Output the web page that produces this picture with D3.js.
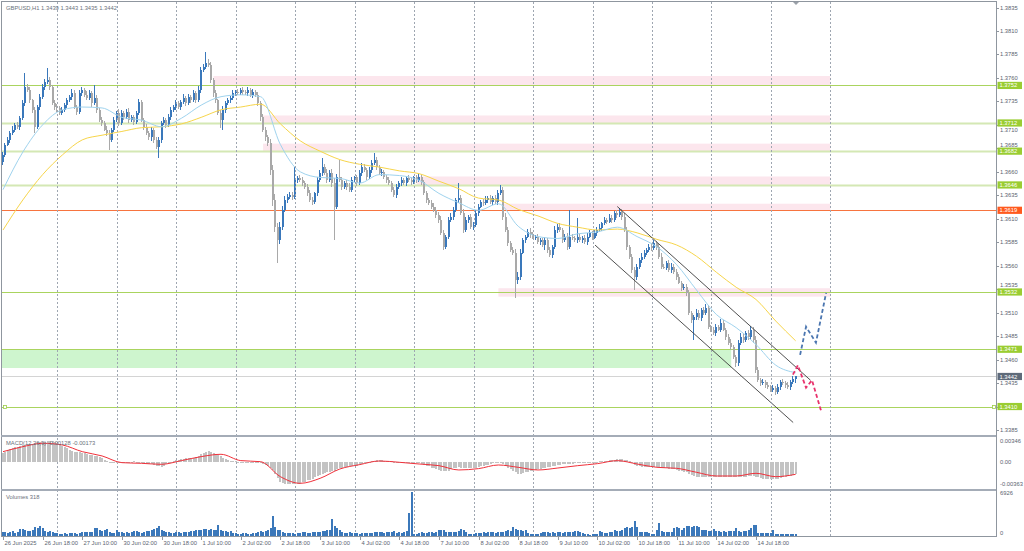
<!DOCTYPE html>
<html><head><meta charset="utf-8">
<script src="https://cdn.jsdelivr.net/npm/d3@7"></script>
<style>
html,body{margin:0;padding:0;background:#fff;overflow:hidden;}
svg{display:block;font-family:"Liberation Sans",Arial,sans-serif;}
</style></head><body>
<svg id="c" width="1024" height="551"></svg>
<script>
// ================= DATA =================
const symbolTitle = "GBPUSD,H1  1.3439 1.3443 1.3435 1.3442";
const macdTitle = "MACD(12,26,9) -0.00128 -0.00173";
const volTitle = "Volumes 318";

const firstOpen = 1.3670;
// hourly closes, 26 Jun 02:00 -> 15 Jul 10:00
const closes = [
1.3678,1.3689,1.3694,1.3701,1.3705,1.3710,1.3708,1.3717,1.3733,1.3750,1.3747,1.3736,1.3726,1.3708,1.3729,1.3740,
1.3750,1.3756,1.3758,1.3750,1.3733,1.3729,1.3728,1.3723,1.3726,1.3731,1.3736,1.3740,1.3744,1.3729,1.3724,1.3744,
1.3747,1.3742,1.3739,1.3744,1.3733,1.3739,1.3726,1.3715,1.3712,1.3705,1.3701,1.3694,1.3705,1.3715,1.3723,1.3712,
1.3723,1.3718,1.3724,1.3715,1.3718,1.3713,1.3723,1.3734,1.3715,1.3708,1.3701,1.3697,1.3705,1.3694,1.3686,1.3694,
1.3712,1.3715,1.3710,1.3718,1.3726,1.3729,1.3733,1.3729,1.3734,1.3739,1.3733,1.3740,1.3736,1.3744,1.3736,1.3747,
1.3768,1.3772,1.3776,1.3774,1.3758,1.3744,1.3736,1.3723,1.3715,1.3726,1.3733,1.3736,1.3739,1.3744,1.3745,1.3744,
1.3747,1.3745,1.3744,1.3747,1.3742,1.3745,1.3742,1.3733,1.3718,1.3705,1.3697,1.3691,1.3662,1.3630,1.3601,1.3587,
1.3601,1.3619,1.3630,1.3633,1.3635,1.3633,1.3651,1.3653,1.3651,1.3648,1.3644,1.3637,1.3630,1.3628,1.3637,1.3651,
1.3659,1.3665,1.3659,1.3651,1.3659,1.3648,1.3623,1.3654,1.3651,1.3644,1.3648,1.3644,1.3641,1.3651,1.3654,1.3648,
1.3659,1.3665,1.3662,1.3654,1.3662,1.3669,1.3673,1.3665,1.3659,1.3660,1.3654,1.3651,1.3648,1.3641,1.3635,1.3644,
1.3648,1.3651,1.3648,1.3653,1.3651,1.3649,1.3654,1.3651,1.3654,1.3649,1.3637,1.3630,1.3627,1.3623,1.3619,1.3614,
1.3609,1.3595,1.3580,1.3591,1.3609,1.3612,1.3619,1.3630,1.3632,1.3616,1.3598,1.3609,1.3612,1.3601,1.3603,1.3616,
1.3623,1.3628,1.3627,1.3630,1.3632,1.3628,1.3632,1.3628,1.3637,1.3641,1.3612,1.3598,1.3584,1.3577,1.3574,1.3545,
1.3548,1.3574,1.3587,1.3591,1.3596,1.3593,1.3590,1.3591,1.3585,1.3587,1.3582,1.3587,1.3577,1.3571,1.3580,1.3598,
1.3601,1.3598,1.3587,1.3591,1.3580,1.3591,1.3590,1.3587,1.3591,1.3587,1.3590,1.3585,1.3591,1.3595,1.3590,1.3595,
1.3598,1.3600,1.3605,1.3609,1.3607,1.3611,1.3609,1.3616,1.3614,1.3617,1.3612,1.3598,1.3580,1.3569,1.3555,1.3548,
1.3559,1.3566,1.3569,1.3574,1.3577,1.3580,1.3579,1.3584,1.3580,1.3569,1.3559,1.3558,1.3563,1.3555,1.3559,1.3553,
1.3548,1.3542,1.3536,1.3537,1.3531,1.3510,1.3502,1.3505,1.3510,1.3504,1.3513,1.3510,1.3515,1.3495,1.3492,1.3488,
1.3495,1.3492,1.3499,1.3492,1.3484,1.3478,1.3473,1.3463,1.3456,1.3478,1.3484,1.3481,1.3488,1.3484,1.3492,1.3481,
1.3449,1.3438,1.3435,1.3436,1.3433,1.3431,1.3428,1.3430,1.3425,1.3431,1.3436,1.3435,1.3433,1.3431,1.3436,1.3439,1.3442];
// wick lengths above/below the body, in pips
const upperWickPips = [
3,2,3,2,4,2,3,2,3,15,4,3,2,3,2,3,
4,3,13,3,2,4,3,2,3,2,3,2,4,3,2,3,
3,2,4,3,2,13,3,2,3,2,4,3,2,3,2,4,
3,2,3,4,2,3,2,4,3,2,3,2,3,2,3,3,
2,3,2,4,3,2,3,2,3,4,2,3,2,3,2,4,
4,3,12,4,3,2,3,2,3,4,2,3,2,3,2,3,
2,3,2,3,2,3,2,3,2,4,3,2,4,5,6,5,
6,5,4,3,4,3,14,3,4,3,2,3,4,3,2,3,
3,10,3,4,3,4,5,4,19,3,2,3,4,3,2,3,
3,4,3,2,3,4,7,3,2,3,2,3,4,2,3,3,
2,3,2,3,4,3,2,3,4,3,2,3,2,3,4,3,
3,4,3,2,3,4,3,2,16,3,4,3,2,3,4,3,
3,2,3,4,2,3,2,3,4,5,3,4,3,2,3,4,
5,4,3,2,3,4,3,2,3,2,3,4,2,3,2,4,
3,4,2,3,4,28,3,2,20,3,2,3,4,3,2,3,
3,4,2,3,2,4,3,2,3,4,3,4,3,2,3,4,
3,2,4,3,2,3,4,3,2,3,4,3,2,3,4,3,
4,3,2,3,4,3,2,3,4,3,2,3,4,3,2,3,
3,2,4,3,2,3,4,3,2,3,4,3,2,3,4,3,
4,3,2,3,2,3,2,3,2,3,2,3,2,3,2,3,1];
const lowerWickPips = [
3,2,2,3,2,3,2,3,2,3,2,3,3,7,2,3,
2,3,2,3,2,3,4,2,3,2,3,2,3,2,3,2,
3,2,3,2,4,2,3,2,3,2,3,11,2,3,2,3,
2,3,2,3,2,3,2,3,2,3,2,3,4,3,2,11,
3,2,3,2,3,2,3,2,3,2,3,2,3,2,3,2,
3,2,3,2,3,4,3,2,8,10,3,2,3,2,3,2,
2,3,2,3,2,3,2,3,4,3,4,3,5,6,5,24,
4,3,2,3,2,3,2,3,2,3,2,3,2,3,2,3,
2,3,2,3,2,4,36,3,2,3,2,3,2,3,2,3,
2,3,2,3,2,3,2,3,2,3,2,3,2,3,2,3,
2,3,2,3,2,3,2,3,2,3,2,3,2,3,2,3,
3,2,3,2,3,2,3,2,3,2,3,2,3,2,3,2,
3,2,3,2,3,2,3,2,3,2,3,2,3,2,3,19,
4,3,2,3,2,3,2,3,2,3,2,5,3,2,3,2,
3,2,3,2,3,2,3,2,3,2,3,2,3,2,3,2,
3,2,3,2,3,2,3,2,3,2,3,2,3,2,3,14,
3,2,3,2,3,2,3,2,3,2,3,2,3,2,3,2,
3,2,3,2,3,2,3,21,3,2,3,2,3,2,3,2,
3,2,3,2,3,2,3,2,4,3,2,3,2,3,2,3,
3,2,3,2,3,2,3,2,3,2,3,2,3,2,3,2,4];
const volumes = [
600,700,550,650,800,500,700,1100,1050,1000,850,800,1000,1400,1300,1650,
1200,800,700,750,600,550,400,300,350,400,350,500,450,400,350,450,
600,650,600,700,650,1300,1200,900,850,1000,1100,700,500,400,900,700,
600,500,650,550,700,800,750,600,550,700,800,750,900,1100,1250,1500,
900,800,650,600,550,500,600,650,550,700,600,650,750,800,900,950,
1000,1150,1100,950,1100,1000,900,1700,1000,850,800,700,750,500,450,300,
350,450,400,300,350,450,400,600,750,700,800,900,1300,3100,1400,1000,
900,600,500,550,400,500,350,450,500,650,600,500,550,700,600,650,
700,800,750,900,1000,2700,1500,1300,900,700,500,450,600,500,400,500,
300,450,500,450,400,550,600,650,700,600,550,700,650,600,750,550,
700,500,650,800,3600,6926,300,350,400,600,550,500,600,650,550,700,
950,1000,900,700,650,600,700,650,750,1100,950,600,350,300,350,400,
400,550,600,500,650,700,600,550,650,700,600,800,900,850,1400,1100,
1000,950,850,900,400,350,300,350,300,500,600,650,600,550,600,500,
600,650,550,600,700,650,600,800,750,700,500,300,250,200,300,250,
300,800,600,550,500,600,700,900,750,800,1000,1200,1400,1300,1350,2300,
1400,700,600,650,700,400,300,350,900,2000,800,650,600,700,650,1300,
1400,1250,1000,1200,1500,1600,1450,1550,1500,1400,1000,950,900,850,750,1050,
800,750,700,800,700,750,800,850,1200,800,700,750,850,1000,1300,1700,
1750,500,400,450,400,450,500,950,350,300,350,300,250,350,300,250,318];
const macdMain = [
0.0015,0.0017,0.0019,0.0021,0.0022,0.0024,0.0025,0.0026,0.0027,0.0028,0.0029,0.0030,0.0030,0.0031,0.0032,0.0032,
0.0033,0.0033,0.0034,0.0034,0.0034,0.0033,0.0031,0.0029,0.0026,0.0024,0.0022,0.0020,0.0018,0.0017,0.0016,0.0016,
0.0015,0.0014,0.0013,0.0012,0.0011,0.0010,0.0009,0.0008,0.0006,0.0004,0.0002,0.0000,-0.0002,-0.0002,-0.0001,-0.0001,
-0.0001,0.0000,0.0000,0.0000,0.0000,0.0001,0.0000,-0.0001,-0.0001,-0.0002,-0.0003,-0.0003,-0.0004,-0.0005,-0.0006,-0.0007,
-0.0008,-0.0006,-0.0004,-0.0002,0.0000,0.0001,0.0003,0.0004,0.0005,0.0005,0.0006,0.0006,0.0006,0.0007,0.0008,0.0010,
0.0013,0.0015,0.0017,0.0018,0.0017,0.0015,0.0013,0.0011,0.0010,0.0007,0.0005,0.0003,0.0002,0.0001,0.0001,0.0000,
0.0000,0.0000,-0.0001,-0.0001,-0.0001,-0.0001,-0.0001,-0.0002,-0.0002,-0.0003,-0.0005,-0.0006,-0.0009,-0.0013,-0.0019,-0.0026,
-0.0032,-0.0034,-0.0035,-0.0036,-0.0036,-0.0036,-0.0036,-0.0035,-0.0035,-0.0033,-0.0032,-0.0030,-0.0029,-0.0027,-0.0025,-0.0023,
-0.0021,-0.0020,-0.0018,-0.0017,-0.0016,-0.0015,-0.0014,-0.0012,-0.0010,-0.0009,-0.0008,-0.0008,-0.0007,-0.0007,-0.0006,-0.0006,
-0.0005,-0.0004,-0.0002,-0.0001,0.0000,0.0001,0.0002,0.0003,0.0003,0.0003,0.0002,0.0002,0.0002,0.0001,0.0000,-0.0001,
-0.0001,-0.0001,-0.0001,-0.0001,-0.0001,-0.0001,-0.0002,-0.0002,-0.0002,-0.0003,-0.0005,-0.0006,-0.0007,-0.0009,-0.0010,-0.0012,
-0.0013,-0.0014,-0.0015,-0.0014,-0.0014,-0.0012,-0.0010,-0.0009,-0.0008,-0.0009,-0.0010,-0.0010,-0.0010,-0.0010,-0.0009,-0.0009,
-0.0008,-0.0007,-0.0006,-0.0005,-0.0005,-0.0004,-0.0002,-0.0001,0.0000,0.0000,-0.0003,-0.0006,-0.0010,-0.0012,-0.0014,-0.0017,
-0.0019,-0.0019,-0.0018,-0.0017,-0.0016,-0.0015,-0.0014,-0.0013,-0.0012,-0.0011,-0.0010,-0.0009,-0.0008,-0.0008,-0.0007,-0.0006,
-0.0005,-0.0005,-0.0004,-0.0004,-0.0004,-0.0003,-0.0003,-0.0002,-0.0002,-0.0002,-0.0001,-0.0001,-0.0001,-0.0001,0.0000,0.0000,
0.0000,0.0001,0.0001,0.0002,0.0002,0.0003,0.0004,0.0004,0.0005,0.0005,0.0005,0.0004,0.0003,0.0001,-0.0002,-0.0005,
-0.0007,-0.0007,-0.0008,-0.0008,-0.0008,-0.0008,-0.0008,-0.0008,-0.0008,-0.0008,-0.0009,-0.0009,-0.0010,-0.0011,-0.0012,-0.0012,
-0.0013,-0.0014,-0.0015,-0.0016,-0.0017,-0.0019,-0.0021,-0.0023,-0.0024,-0.0025,-0.0025,-0.0025,-0.0025,-0.0025,-0.0025,-0.0024,
-0.0024,-0.0024,-0.0024,-0.0024,-0.0024,-0.0024,-0.0025,-0.0025,-0.0025,-0.0025,-0.0024,-0.0024,-0.0024,-0.0023,-0.0023,-0.0023,
-0.0024,-0.0025,-0.0026,-0.0027,-0.0027,-0.0028,-0.0028,-0.0028,-0.0028,-0.0027,-0.0026,-0.0025,-0.0024,-0.0023,-0.0022,-0.0021,-0.0020];
// indicator lines sampled every 8 bars
const maStep = 8;
const maFast = [1.3641,1.3681,1.3710,1.3726,1.3729,1.3728,1.3718,1.3715,1.3708,1.3717,1.3731,1.3740,1.3742,1.3740,1.3689,1.3660,1.3654,1.3653,1.3648,1.3657,1.3656,1.3651,1.3637,1.3627,1.3619,1.3626,1.3602,1.3591,1.3589,1.3594,1.3596,1.3601,1.3591,1.3580,1.3561,1.3534,1.3508,1.3494,1.3476,1.3454,1.3446];
const maSlow = [1.3598,1.3630,1.3657,1.3678,1.3694,1.3699,1.3703,1.3707,1.3708,1.3711,1.3718,1.3726,1.3729,1.3732,1.3711,1.3693,1.3682,1.3673,1.3668,1.3665,1.3661,1.3658,1.3650,1.3642,1.3632,1.3630,1.3620,1.3613,1.3605,1.3601,1.3598,1.3599,1.3595,1.3588,1.3582,1.3570,1.3553,1.3537,1.3524,1.3501,1.3480];
const macdSignal = [0.00168,0.00249,0.00304,0.00276,0.00168,0.00098,-0.00011,-0.00022,-0.00038,0.00022,0.00087,0.00125,0.00022,0.00005,-0.00239,-0.00347,-0.00266,-0.00114,-0.00043,0.00016,-0.00005,-0.00033,-0.00060,-0.00130,-0.00108,-0.00049,-0.00087,-0.00130,-0.00098,-0.00060,-0.00027,0.00022,-0.00033,-0.00087,-0.00103,-0.00168,-0.00228,-0.00228,-0.00184,-0.00239,-0.00201];

// time axis
const timeLabels = ["26 Jun 2025","26 Jun 18:00","27 Jun 10:00","30 Jun 02:00","30 Jun 18:00","1 Jul 10:00","2 Jul 02:00","2 Jul 18:00","3 Jul 10:00","4 Jul 02:00","4 Jul 18:00","7 Jul 10:00","8 Jul 02:00","8 Jul 18:00","9 Jul 10:00","10 Jul 02:00","10 Jul 18:00","11 Jul 10:00","14 Jul 02:00","14 Jul 18:00"];
const timeLabelBars = [0,16,32,48,64,80,96,112,128,144,160,176,192,208,224,240,256,272,288,304];
const dayStartBars = [22,46,70,94,118,142,166,190,214,238,262,286,310,334];
// price axis
const priceTicks = [1.3835,1.3810,1.3785,1.3760,1.3735,1.3710,1.3685,1.3660,1.3635,1.3610,1.3585,1.3560,1.3535,1.3510,1.3485,1.3460,1.3435,1.3410,1.3385];
const macdTicks = [0.00346,0.00,-0.00363];
const macdTickText = ["0.00346","0.00","-0.00363"];
const volTicks = [6926,0];

// drawn objects
const greenLevels = [1.3752,1.3712,1.3682,1.3646,1.3532,1.3471,1.3410];
const redLevel = 1.3619;
const lastPrice = 1.3442;
const zoneFrom = [85,105,105,167,202,200];
const zoneTo   = [334,334,334,334,334,334];
const zoneTop  = [1.3762,1.3720,1.3690,1.3655,1.3626,1.3536];
const zoneBot  = [1.3752,1.3712,1.3682,1.3646,1.3619,1.3527];
const demandZone = {from:-1, to:294, top:1.3471, bot:1.3451};
const channelUpper = [[248,1.3623],[326,1.3438]];
const channelLower = [[239,1.3582],[319,1.3393]];
const projUp = [[321.8,1.3465],[324.2,1.3495],[328.2,1.3478],[332.3,1.3531]];
const projDown = [[318.9,1.3444],[320.9,1.3454],[324.2,1.3430],[326.6,1.3438],[330.2,1.3406]];

// ================= CHECKS =================
const N = closes.length;
[["upper",upperWickPips],["lower",lowerWickPips],["vol",volumes],["macd",macdMain]].forEach(([n,a])=>{
  if(a.length!==N) throw new Error(n+" length "+a.length+" != "+N);
});

// ================= SCALES =================
const svg = d3.select('#c');
const PLOT_L = 2, PLOT_R = 996;
const x = d3.scaleLinear().domain([0,320]).range([3, 3+320*2.477]);
const y = d3.scaleLinear().domain([1.3385,1.3835]).range([430,7.5]);
const yM = d3.scaleLinear().domain([-0.00363,0.00346]).range([484.3,440.7]);
const yV = d3.scaleLinear().domain([0,6926]).range([536,492]);
const px = i => Math.round(x(i));

svg.append('rect').attr('width',1024).attr('height',551).attr('fill','#fff');
const defs = svg.append('defs');
defs.append('clipPath').attr('id','cMain').append('rect').attr('x',2).attr('y',2).attr('width',994).attr('height',433);
defs.append('clipPath').attr('id','cMacd').append('rect').attr('x',2).attr('y',437).attr('width',994).attr('height',52);
defs.append('clipPath').attr('id','cVol').append('rect').attr('x',2).attr('y',491).attr('width',994).attr('height',45);

const gMain = svg.append('g').attr('clip-path','url(#cMain)');

// supply zones
gMain.selectAll('rect.zone').data(zoneFrom).join('rect').attr('class','zone')
  .attr('x',(d,i)=>x(d)).attr('width',(d,i)=>x(zoneTo[i])-x(d))
  .attr('y',(d,i)=>y(zoneTop[i])).attr('height',(d,i)=>y(zoneBot[i])-y(zoneTop[i]))
  .attr('fill','#fce6ed');
// demand zone
gMain.append('rect').attr('x',PLOT_L).attr('width',x(demandZone.to)-PLOT_L)
  .attr('y',y(demandZone.top)).attr('height',y(demandZone.bot)-y(demandZone.top))
  .attr('fill','#cef5ce');

// vertical grid (all panels)
svg.append('g').selectAll('line').data(dayStartBars).join('line')
  .attr('x1',d=>px(d)+0.5).attr('x2',d=>px(d)+0.5).attr('y1',2).attr('y2',536)
  .attr('stroke','#9ea6b1').attr('stroke-width',1).attr('stroke-dasharray','2,2');

// horizontal levels
const pale = new Set([1.3712,1.3682,1.3646]);
gMain.selectAll('line.lvl').data(greenLevels).join('line').attr('class','lvl')
  .attr('x1',PLOT_L).attr('x2',PLOT_R).attr('y1',d=>Math.round(y(d))+0.5).attr('y2',d=>Math.round(y(d))+0.5)
  .attr('stroke',d=>pale.has(d)?'#d4e8b4':'#aad45e').attr('stroke-width',d=>pale.has(d)?2:1.1);
gMain.append('line').attr('x1',PLOT_L).attr('x2',PLOT_R).attr('y1',Math.round(y(redLevel))+0.5).attr('y2',Math.round(y(redLevel))+0.5)
  .attr('stroke','#f7743f').attr('stroke-width',1.2);
gMain.append('line').attr('x1',PLOT_L).attr('x2',PLOT_R).attr('y1',Math.round(y(lastPrice))+0.5).attr('y2',Math.round(y(lastPrice))+0.5)
  .attr('stroke','#d4d4d4').attr('stroke-width',1);
// handle squares of the 1.3410 line
[PLOT_L+1, PLOT_R-4].forEach(xx=>{
  gMain.append('rect').attr('x',xx+0.5).attr('y',Math.round(y(1.3410))-1.5).attr('width',3).attr('height',3)
    .attr('fill','#fff').attr('stroke','#9ccc4a').attr('stroke-width',0.8);
});

// candles
const bars = closes.map((c,i)=>{
  const o = i===0 ? firstOpen : closes[i-1];
  const h = Math.max(o,c) + upperWickPips[i]*1e-4;
  const l = Math.min(o,c) - lowerWickPips[i]*1e-4;
  return {i,o,h,l,c};
});
const colOf = d => d.c>d.o ? '#3a78bb' : (d.c<d.o ? '#a9a9a9' : '#222');
const gC = gMain.append('g').attr('shape-rendering','crispEdges');
gC.selectAll('line').data(bars).join('line')
  .attr('x1',d=>px(d.i)-0.5).attr('x2',d=>px(d.i)-0.5)
  .attr('y1',d=>y(d.h)).attr('y2',d=>y(d.l))
  .attr('stroke',colOf).attr('stroke-width',1);
gC.selectAll('rect').data(bars).join('rect')
  .attr('x',d=>px(d.i)-1).attr('width',2)
  .attr('y',d=>y(Math.max(d.o,d.c)))
  .attr('height',d=>Math.max(1, y(Math.min(d.o,d.c))-y(Math.max(d.o,d.c))))
  .attr('fill',colOf);

// moving averages
const maLine = d3.line().x((d,k)=>x(k*maStep)).y(d=>y(d)).curve(d3.curveMonotoneX);
gMain.append('path').attr('d',maLine(maSlow)).attr('fill','none').attr('stroke','#f7d54a').attr('stroke-width',1);
gMain.append('path').attr('d',maLine(maFast)).attr('fill','none').attr('stroke','#9fd3ee').attr('stroke-width',1);

// channel
const ptLine = d3.line().x(d=>x(d[0])).y(d=>y(d[1]));
[channelUpper, channelLower].forEach(ch=>{
  gMain.append('path').attr('d',ptLine(ch)).attr('fill','none').attr('stroke','#3c3c3c').attr('stroke-width',0.9);
});
// projections
gMain.append('path').attr('d',ptLine(projUp)).attr('fill','none').attr('stroke','#4b76b0')
  .attr('stroke-width',1.8).attr('stroke-dasharray','4,2.5');
gMain.append('path').attr('d',ptLine(projDown)).attr('fill','none').attr('stroke','#e8336d')
  .attr('stroke-width',1.8).attr('stroke-dasharray','4,2.5');

// shift marker
svg.append('path').attr('d',`M${px(320)-3},2 L${px(320)+3},2 L${px(320)},5 Z`).attr('fill','#9aa0a8');

// ---- MACD panel
const gM = svg.append('g').attr('clip-path','url(#cMacd)').attr('shape-rendering','crispEdges');
gM.selectAll('rect').data(macdMain).join('rect')
  .attr('x',(d,i)=>px(i)-1).attr('width',2)
  .attr('y',d=>Math.min(yM(d),yM(0))).attr('height',d=>Math.max(0.6,Math.abs(yM(d)-yM(0))))
  .attr('fill','#c3c3c3');
const sigLine = d3.line().x((d,k)=>x(k*maStep)).y(d=>yM(d)).curve(d3.curveMonotoneX);
svg.append('g').attr('clip-path','url(#cMacd)').append('path').attr('d',sigLine(macdSignal))
  .attr('fill','none').attr('stroke','#f0303a').attr('stroke-width',1);

// ---- Volume panel
const gV = svg.append('g').attr('clip-path','url(#cVol)').attr('shape-rendering','crispEdges');
gV.selectAll('rect').data(volumes).join('rect')
  .attr('x',(d,i)=>px(i)-1).attr('width',2)
  .attr('y',d=>yV(d)).attr('height',d=>yV(0)-yV(d))
  .attr('fill','#3b78ba');

// ---- frame & separators
const frame = svg.append('g').attr('shape-rendering','crispEdges');
frame.append('rect').attr('x',1).attr('y',1).attr('width',PLOT_R-1).attr('height',1).attr('fill','#8f969f');
frame.append('rect').attr('x',1).attr('y',1).attr('width',1).attr('height',536).attr('fill','#8f969f');
frame.append('rect').attr('x',1).attr('y',435).attr('width',PLOT_R-1).attr('height',2).attr('fill','#a4acb7');
frame.append('rect').attr('x',1).attr('y',489).attr('width',PLOT_R-1).attr('height',2).attr('fill','#a4acb7');
frame.append('rect').attr('x',1).attr('y',536).attr('width',PLOT_R).attr('height',1).attr('fill','#8f969f');
frame.append('rect').attr('x',PLOT_R).attr('y',1).attr('width',1).attr('height',536).attr('fill','#8f969f');

const FS = 5.8, TXT = '#5b6470';
// time axis
const gT = svg.append('g');
gT.selectAll('line').data(timeLabelBars).join('line')
  .attr('x1',d=>px(d)+0.5).attr('x2',d=>px(d)+0.5).attr('y1',537).attr('y2',540)
  .attr('stroke','#8f969f').attr('shape-rendering','crispEdges');
gT.selectAll('text').data(timeLabels).join('text')
  .attr('x',(d,i)=>px(timeLabelBars[i])+1.5).attr('y',544.8)
  .attr('font-size',FS).attr('fill',TXT).text(d=>d);

// price axis (labels partly hidden by a level tag are nudged clear of it)
const tagLevels = greenLevels.concat([redLevel,lastPrice]);
const labelY = d => {
  const yy = y(d);
  let best = yy;
  tagLevels.forEach(t=>{
    const ty = y(t), dy = yy-ty;
    if (Math.abs(dy) > 0.5 && Math.abs(dy) < 6.5) best = ty + Math.sign(dy)*6.6;
  });
  return best;
};
const gP = svg.append('g');
gP.selectAll('line').data(priceTicks).join('line')
  .attr('x1',PLOT_R).attr('x2',PLOT_R+3).attr('y1',d=>Math.round(y(d))+0.5).attr('y2',d=>Math.round(y(d))+0.5)
  .attr('stroke','#8f969f').attr('shape-rendering','crispEdges');
gP.selectAll('text').data(priceTicks).join('text')
  .attr('x',PLOT_R+4).attr('y',labelY).attr('dy','0.35em')
  .attr('font-size',FS).attr('fill',TXT).text(d=>d.toFixed(4));
// macd axis
svg.append('g').selectAll('text').data(macdTicks).join('text')
  .attr('x',PLOT_R+4).attr('y',d=>yM(d)).attr('dy','0.35em')
  .attr('font-size',FS).attr('fill',TXT).text((d,i)=>macdTickText[i]);
// volume axis
svg.append('g').selectAll('text').data(volTicks).join('text')
  .attr('x',PLOT_R+4).attr('y',(d,i)=> i===0 ? yV(d)+0.8 : yV(d)-3.3).attr('dy','0.35em')
  .attr('font-size',FS).attr('fill',TXT).text(d=>String(d));

// level tags
function tag(val, fill){
  const yy = y(val);
  svg.append('rect').attr('x',PLOT_R+1.5).attr('y',yy-3.6).attr('width',24.5).attr('height',7.2).attr('fill',fill);
  svg.append('text').attr('x',PLOT_R+3.5).attr('y',yy).attr('dy','0.35em')
    .attr('font-size',FS).attr('fill','#fff').text(val.toFixed(4));
}
greenLevels.forEach(v=>tag(v,'#9acd32'));
tag(redLevel,'#ff5a1e');
tag(lastPrice,'#5f6b7a');

// panel titles
svg.append('text').attr('x',6).attr('y',7.5).attr('dy','0.35em').attr('font-size',FS).attr('fill','#6b727c').text(symbolTitle);
svg.append('text').attr('x',6).attr('y',442.5).attr('dy','0.35em').attr('font-size',FS).attr('fill','#6b727c').text(macdTitle);
svg.append('text').attr('x',6).attr('y',496.5).attr('dy','0.35em').attr('font-size',FS).attr('fill','#6b727c').text(volTitle);
</script>
</body></html>
